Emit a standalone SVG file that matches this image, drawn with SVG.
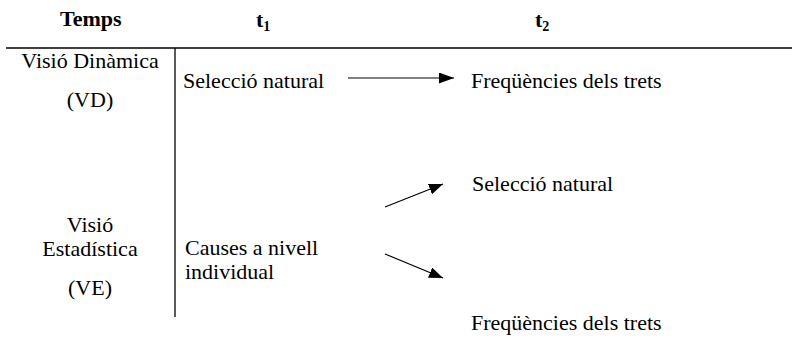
<svg xmlns="http://www.w3.org/2000/svg" width="792" height="342" viewBox="0 0 792 342">
<style>
text{font-family:"Liberation Serif","Times New Roman",serif;font-size:22px;fill:#000}
.b{font-weight:bold}
.c{text-anchor:middle}
.ln{stroke:#000;stroke-width:1.3;fill:none}
.ar{stroke:#000;stroke-width:1.2;fill:none}
</style>
<defs>
<marker id="ah" viewBox="0 0 15 11" refX="15" refY="5.5" markerWidth="15" markerHeight="11" markerUnits="userSpaceOnUse" orient="auto">
<path d="M0,0 L15,5.5 L0,11 Z" fill="#000"/>
</marker>
<marker id="ah2" viewBox="0 0 14 11" refX="14" refY="5.5" markerWidth="14" markerHeight="11" markerUnits="userSpaceOnUse" orient="auto">
<path d="M0,0 L14,5.5 L0,11 Z" fill="#000"/>
</marker>
</defs>
<g id="table">
<line class="ln" x1="6" y1="48" x2="792" y2="48"/>
<line class="ln" x1="175" y1="48" x2="175" y2="317"/>
</g>
<g id="header-temps"><text class="b" x="60" y="26">Temps</text></g>
<g id="header-t1"><text class="b" x="256" y="27">t<tspan font-size="14" dy="4">1</tspan></text></g>
<g id="header-t2"><text class="b" x="535" y="27">t<tspan font-size="14" dy="4">2</tspan></text></g>
<g id="vd-label">
<text class="c" x="90" y="68">Visió Dinàmica</text>
<text class="c" x="90" y="107">(VD)</text>
</g>
<g id="ve-label">
<text class="c" x="90" y="232">Visió</text>
<text class="c" x="90" y="256">Estadística</text>
<text class="c" x="90" y="295">(VE)</text>
</g>
<g id="vd-seleccio"><text x="183" y="88">Selecció natural</text></g>
<g id="vd-freq"><text x="471" y="88">Freqüències dels trets</text></g>
<g id="ve-causes">
<text x="185" y="255">Causes a nivell</text>
<text x="185" y="279">individual</text>
</g>
<g id="ve-seleccio"><text x="472" y="191">Selecció natural</text></g>
<g id="ve-freq"><text x="471" y="330">Freqüències dels trets</text></g>
<g id="connectors">
<line class="ar" x1="348" y1="78" x2="454" y2="78" stroke="#555" marker-end="url(#ah)"/>
<line class="ar" x1="385" y1="207" x2="443" y2="184" marker-end="url(#ah2)"/>
<line class="ar" x1="385" y1="254" x2="443" y2="278" marker-end="url(#ah2)"/>
</g>
</svg>
